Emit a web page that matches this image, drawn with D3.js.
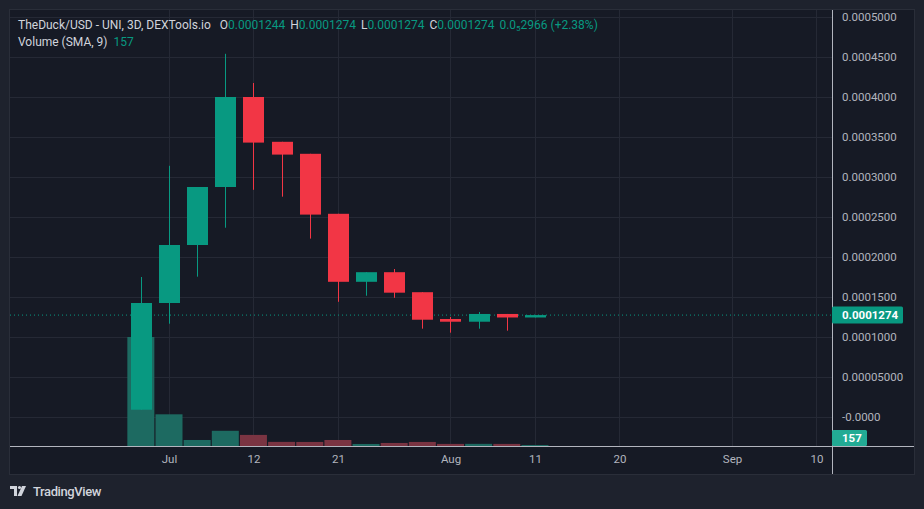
<!DOCTYPE html>
<html>
<head>
<meta charset="utf-8">
<script src="https://cdn.jsdelivr.net/npm/d3@7"></script>
<style>
  body { margin: 0; background: #1e222d; }
  svg { display: block; font-family: Roboto, "Noto Sans", sans-serif; }
</style>
</head>
<body>
<div id="chart"></div>
<script>
// bars are 3 days apart
const dates = ["2023-06-30", "2023-07-03", "2023-07-06", "2023-07-09", "2023-07-12",
  "2023-07-15", "2023-07-18", "2023-07-21", "2023-07-24", "2023-07-27",
  "2023-07-30", "2023-08-02", "2023-08-05", "2023-08-08", "2023-08-11"];
const open  = [0.0000091, 0.0001425, 0.000215, 0.0002875, 0.0004, 0.000344, 0.000329, 0.000254,
  0.000169, 0.000181, 0.000156, 0.0001225, 0.0001191, 0.0001288, 0.0001244];
const high  = [0.000175, 0.000314, 0.0002875, 0.000454, 0.0004175, 0.000344, 0.000329, 0.000254,
  0.000181, 0.000185, 0.000156, 0.000125, 0.0001313, 0.0001288, 0.0001274];
const low   = [0.0000091, 0.0001166, 0.0001754, 0.0002366, 0.000284, 0.0002754, 0.000223, 0.000144,
  0.0001516, 0.000149, 0.0001104, 0.0001054, 0.0001104, 0.0001079, 0.0001244];
const close = [0.0001425, 0.000215, 0.0002875, 0.0004, 0.000343, 0.000328, 0.000253, 0.000169,
  0.000181, 0.0001554, 0.0001216, 0.0001191, 0.0001288, 0.0001244, 0.0001274];
const volume = [17200, 5000, 950, 2400, 1750, 650, 640, 950, 320, 480, 640, 330, 340, 330, 157];

const priceTicks = [0, 0.00005, 0.0001, 0.00015, 0.0002, 0.00025, 0.0003, 0.00035, 0.0004, 0.00045, 0.0005];
const priceLabels = ["-0.0000", "0.00005000", "0.0001000", "0.0001500", "0.0002000", "0.0002500",
  "0.0003000", "0.0003500", "0.0004000", "0.0004500", "0.0005000"];
const timeTicks = ["2023-07-03", "2023-07-12", "2023-07-21", "2023-08-02", "2023-08-11",
  "2023-08-20", "2023-09-01", "2023-09-10"];
const timeLabels = ["Jul", "12", "21", "Aug", "11", "20", "Sep", "10"];

const lastPrice = 0.0001274;
const volSma = 157;

const W = 924, H = 509;
const colours = {
  up: '#089981', down: '#f23645',
  upVol: '#1d6a61', downVol: '#7a3442',
  grid: '#252935', text: '#b2b5be', legend: '#d1d4dc', axisLine: '#b2b5be'
};

const parse = d3.utcParse('%Y-%m-%d');
const bars = dates.map((d, i) => ({
  date: parse(d), o: open[i], h: high[i], l: low[i], c: close[i], v: volume[i]
}));

// layout of the pane
const pane = { left: 10, top: 10, right: 832, bottom: 446, axisBottom: 474, frameRight: 914 };

const x = d3.scaleUtc()
  .domain([parse("2023-06-30"), parse("2023-09-10")])
  .range([140.85, 140.85 + 24 * 28.15]);
const y = d3.scaleLinear().domain([0, 0.0005]).range([417, 17]);
const yVol = d3.scaleLinear().domain([0, 17200]).range([pane.bottom, 337]);

const bodyW = 21, volW = 27;

const svg = d3.select('#chart').append('svg')
  .attr('width', W)
  .attr('height', H);

// chart background + frame
svg.append('rect')
  .attr('x', pane.left - 0.5).attr('y', pane.top - 0.5)
  .attr('width', pane.frameRight - pane.left + 1)
  .attr('height', pane.axisBottom - pane.top + 1)
  .attr('fill', '#161a25')
  .attr('stroke', '#2a2e39');

// grid
const grid = svg.append('g').attr('class', 'grid');
grid.selectAll('line.h')
  .data(priceTicks)
  .enter().append('line')
    .attr('class', 'h')
    .attr('x1', pane.left).attr('x2', pane.right)
    .attr('y1', d => Math.round(y(d)) + 0.5)
    .attr('y2', d => Math.round(y(d)) + 0.5)
    .attr('stroke', colours.grid);
grid.selectAll('line.v')
  .data(timeTicks)
  .enter().append('line')
    .attr('class', 'v')
    .attr('y1', pane.top).attr('y2', pane.bottom)
    .attr('x1', d => Math.round(x(parse(d))) + 0.5)
    .attr('x2', d => Math.round(x(parse(d))) + 0.5)
    .attr('stroke', colours.grid);

// volume bars go under the candles
svg.append('g').selectAll('rect')
  .data(bars)
  .enter().append('rect')
    .attr('x', d => x(d.date) - volW / 2)
    .attr('width', volW)
    .attr('y', d => yVol(d.v))
    .attr('height', d => pane.bottom - yVol(d.v))
    .attr('fill', d => d.c >= d.o ? colours.upVol : colours.downVol);

// last price dotted line
svg.append('line')
  .attr('x1', pane.left).attr('x2', pane.right)
  .attr('y1', y(lastPrice)).attr('y2', y(lastPrice))
  .attr('stroke', colours.up)
  .attr('stroke-dasharray', '1,3');

// candles
const candle = svg.append('g').selectAll('g')
  .data(bars)
  .enter().append('g');

candle.append('line')
  .attr('x1', d => Math.round(x(d.date)) + 0.5)
  .attr('x2', d => Math.round(x(d.date)) + 0.5)
  .attr('y1', d => y(d.h))
  .attr('y2', d => y(d.l))
  .attr('stroke', d => d.c >= d.o ? colours.up : colours.down);

candle.append('rect')
  .attr('x', d => Math.round(x(d.date)) + 0.5 - bodyW / 2)
  .attr('width', bodyW)
  .attr('y', d => y(Math.max(d.o, d.c)))
  .attr('height', d => Math.max(1, Math.abs(y(d.o) - y(d.c))))
  .attr('fill', d => d.c >= d.o ? colours.up : colours.down);

// right price axis
const yAxis = d3.axisRight(y)
  .tickValues(priceTicks)
  .tickFormat((d, i) => priceLabels[i])
  .tickSize(0)
  .tickPadding(10);

svg.append('g')
  .attr('transform', 'translate(' + pane.right + ',0)')
  .call(yAxis)
  .call(g => g.select('.domain').remove())
  .selectAll('text')
    .attr('fill', colours.text)
    .style('font-size', '11.5px')
    .style('font-family', 'Roboto, sans-serif');

// bottom time axis
const xAxis = d3.axisBottom(x)
  .tickValues(timeTicks.map(parse))
  .tickFormat((d, i) => timeLabels[i])
  .tickSize(0)
  .tickPadding(9);

svg.append('g')
  .attr('transform', 'translate(0,' + pane.bottom + ')')
  .call(xAxis)
  .call(g => g.select('.domain').remove())
  .selectAll('text')
    .attr('fill', colours.text)
    .style('font-size', '11.5px')
    .style('font-family', 'Roboto, sans-serif');

// axis border lines
svg.append('line')
  .attr('x1', pane.left).attr('x2', pane.frameRight)
  .attr('y1', pane.bottom + 0.5).attr('y2', pane.bottom + 0.5)
  .attr('stroke', colours.axisLine);
svg.append('line')
  .attr('x1', pane.right + 0.5).attr('x2', pane.right + 0.5)
  .attr('y1', pane.top).attr('y2', pane.axisBottom)
  .attr('stroke', colours.axisLine);

// last price tag
const tag = svg.append('g')
  .attr('transform', 'translate(' + pane.right + ',' + y(lastPrice) + ')');
tag.append('rect')
  .attr('x', 0).attr('y', -8.5)
  .attr('width', 71).attr('height', 17)
  .attr('rx', 1.5)
  .attr('fill', colours.up);
tag.append('text')
  .attr('x', 10).attr('dy', '0.35em')
  .attr('fill', '#ffffff')
  .style('font-size', '11.5px')
  .style('font-weight', 'bold')
  .text(d3.format('.7f')(lastPrice));

// volume tag
const vtag = svg.append('g')
  .attr('transform', 'translate(' + pane.right + ',' + (pane.bottom - 8) + ')');
vtag.append('rect')
  .attr('x', 0).attr('y', -8)
  .attr('width', 35).attr('height', 16)
  .attr('rx', 1.5)
  .attr('fill', '#22ab94');
vtag.append('text')
  .attr('x', 10).attr('dy', '0.35em')
  .attr('fill', '#ffffff')
  .style('font-size', '11.5px')
  .style('font-weight', 'bold')
  .text(volSma);

// legend
const fmt = d3.format('.7f');
const last = bars[bars.length - 1];
const legend1 = svg.append('text')
  .attr('x', 18).attr('y', 29)
  .style('font-size', '12px')
  .attr('fill', colours.legend);
legend1.append('tspan').text('TheDuck/USD - UNI, 3D, DEXTools.io');
[['O', last.o], ['H', last.h], ['L', last.h], ['C', last.c]].forEach((p, i) => {
  legend1.append('tspan').attr('dx', i === 0 ? 9 : 5).text(p[0]);
  legend1.append('tspan').attr('fill', colours.up).text(fmt(p[1]));
});
legend1.append('tspan').attr('dx', 5).attr('fill', colours.up).text('0.0');
legend1.append('tspan').attr('fill', colours.up).style('font-size', '8px').attr('dy', 2).text('5');
legend1.append('tspan').attr('fill', colours.up).attr('dy', -2).text('2966 (+2.38%)');

const legend2 = svg.append('text')
  .attr('x', 18).attr('y', 46)
  .style('font-size', '12px')
  .attr('fill', colours.legend);
legend2.append('tspan').text('Volume (SMA, 9)');
legend2.append('tspan').attr('dx', 6).attr('fill', colours.up).text(volSma);

// TradingView mark
const logo = svg.append('g').attr('transform', 'translate(10,486)').attr('fill', '#d1d4dc');
logo.append('path').attr('d', 'M0,0 H7 V10 H4 V3 H0 Z');
logo.append('circle').attr('cx', 9.5).attr('cy', 1.5).attr('r', 1.6);
logo.append('path').attr('d', 'M12,0 H16 L11.5,10 H7.5 Z');
svg.append('text')
  .attr('x', 33).attr('y', 496)
  .attr('fill', '#d1d4dc')
  .style('font-size', '13px')
  .style('font-weight', '500')
  .style('letter-spacing', '-0.4px')
  .text('TradingView');
</script>
</body>
</html>
